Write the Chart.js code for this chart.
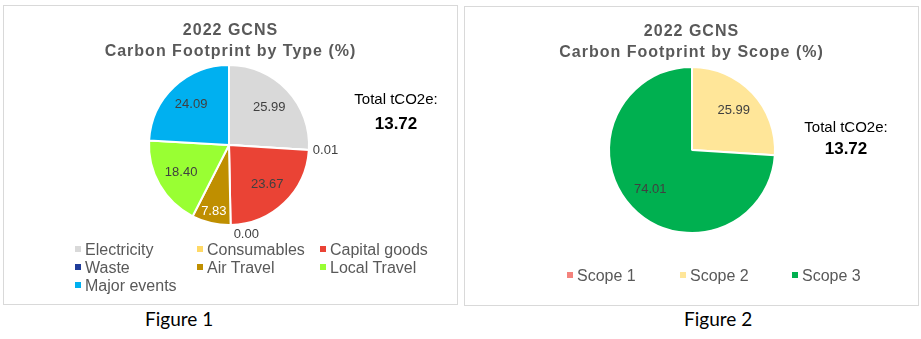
<!DOCTYPE html>
<html>
<head>
<meta charset="utf-8">
<script src="https://cdn.jsdelivr.net/npm/chart.js@4/dist/chart.umd.min.js"></script>
<style>
  body { margin: 0; background: #fff; width: 921px; height: 339px; position: relative; overflow: hidden; }
  .box { position: absolute; border: 1px solid #d9d9d9; background: #fff; }
  .box canvas { position: absolute; left: 0; top: 0; }
  .ttl { position: absolute; left: 0; right: 0; text-align: center; font: bold 16px "Liberation Sans", Arial, sans-serif;
         letter-spacing: 1px; color: #595959; line-height: 21px; }
  .total { position: absolute; text-align: center; font: 15px "Liberation Sans", Arial, sans-serif; color: #000; line-height: 22px; }
  .total b { font-size: 17px; display: block; }
  .legend { position: absolute; font: 16px "Liberation Sans", Arial, sans-serif; color: #595959; }
  .legend .item { position: absolute; white-space: nowrap; line-height: 18px; }
  .legend .mark { display: inline-block; width: 6px; height: 6px; margin-right: 4px; vertical-align: 3px; }
  .cap { position: absolute; font: 19px Lato, "Open Sans", sans-serif; color: #000; }
</style>
</head>
<body>

<div class="box" id="box1" style="left:3px; top:5px; width:453px; height:298px;">
  <canvas id="chartType" width="453" height="298"></canvas>
  <div class="ttl" style="top:13px;">2022 GCNS<br>Carbon Footprint by Type (%)</div>
  <div class="total" style="left:340px; top:82px; width:104px;">Total tCO2e:<b style="margin-top:3px;">13.72</b></div>
  <div class="legend" id="legendType"></div>
</div>

<div class="box" id="box2" style="left:464px; top:6px; width:453px; height:298px;">
  <canvas id="chartScope" width="453" height="298"></canvas>
  <div class="ttl" style="top:13px;">2022 GCNS<br>Carbon Footprint by Scope (%)</div>
  <div class="total" style="left:329px; top:109px; width:104px;">Total tCO2e:<b>13.72</b></div>
  <div class="legend" id="legendScope"></div>
</div>

<div class="cap" style="left:145px; top:307px;">Figure 1</div>
<div class="cap" style="left:684px; top:307px;">Figure 2</div>

<script>
// footprint by type (%)
const typeLabels = ["Electricity", "Consumables", "Capital goods", "Waste", "Air Travel", "Local Travel", "Major events"];
const typeValues = [25.99, 0.01, 23.67, 0.00, 7.83, 18.40, 24.09];
const typeColors = ["#d9d9d9", "#ffd966", "#ea4335", "#1f3c99", "#bf8f00", "#99ff33", "#00b0f0"];
const typeTextColors = ["#404040", "#404040", "#404040", "#404040", "#ffffff", "#404040", "#404040"];

// footprint by scope (%)
const scopeLabels = ["Scope 1", "Scope 2", "Scope 3"];
const scopeValues = [0.00, 25.99, 74.01];
const scopeColors = ["#f4837d", "#ffe699", "#00b050"];
const scopeTextColors = ["#404040", "#404040", "#404040"];

// values drawn on / next to the slices, excel style
const sliceLabels = {
  id: "sliceLabels",
  afterDatasetsDraw(chart, args, opts) {
    const ctx = chart.ctx;
    const ds = chart.data.datasets[0];
    const meta = chart.getDatasetMeta(0);
    const total = ds.data.reduce((a, b) => a + b, 0);
    ctx.save();
    ctx.font = "13px 'Liberation Sans', Arial, sans-serif";
    meta.data.forEach((arc, i) => {
      const v = ds.data[i];
      if (v === 0 && opts.hideZero) return;
      const p = arc.getProps(["x", "y", "startAngle", "endAngle", "outerRadius"], true);
      const mid = (p.startAngle + p.endAngle) / 2;
      const cos = Math.cos(mid), sin = Math.sin(mid);
      const txt = v.toFixed(2);
      if (v / total < 0.01) {
        // tiny slice: label outside the pie
        ctx.fillStyle = "#404040";
        const ox = p.x + cos * p.outerRadius;
        const oy = p.y + sin * p.outerRadius;
        if (Math.abs(cos) >= Math.abs(sin)) {
          ctx.textAlign = cos > 0 ? "left" : "right";
          ctx.textBaseline = "middle";
          ctx.fillText(txt, ox + (cos > 0 ? 4 : -4), oy);
        } else {
          ctx.textAlign = "left";
          ctx.textBaseline = sin > 0 ? "top" : "bottom";
          ctx.fillText(txt, ox + 3, oy + (sin > 0 ? 3 : -3));
        }
      } else {
        const d = p.outerRadius * (v / total < 0.1 ? 0.85 : 0.69);
        ctx.fillStyle = opts.colors[i];
        ctx.textAlign = "center";
        ctx.textBaseline = "middle";
        ctx.fillText(txt, p.x + cos * d, p.y + sin * d);
      }
    });
    ctx.restore();
  }
};

function makePie(id, labels, values, colors, textColors, pad, hideZero) {
  return new Chart(document.getElementById(id), {
    type: "pie",
    data: {
      labels: labels,
      datasets: [{ data: values, backgroundColor: colors, borderColor: "#ffffff", borderWidth: 2 }]
    },
    options: {
      responsive: false,
      animation: false,
      layout: { padding: pad },
      plugins: {
        legend: { display: false },
        tooltip: { enabled: false },
        sliceLabels: { colors: textColors, hideZero: hideZero }
      }
    },
    plugins: [sliceLabels]
  });
}

function makeLegend(id, labels, colors, cols, colX, top) {
  const el = document.getElementById(id);
  labels.forEach((lab, i) => {
    const item = document.createElement("div");
    item.className = "item";
    item.style.left = colX[i % cols] + "px";
    item.style.top = (top + Math.floor(i / cols) * 18) + "px";
    item.innerHTML = `<span class="mark" style="background:${colors[i]}"></span>${lab}`;
    el.appendChild(item);
  });
}

makePie("chartType", typeLabels, typeValues, typeColors, typeTextColors,
  { left: 144, top: 58, right: 147, bottom: 78 }, false);
makePie("chartScope", scopeLabels, scopeValues, scopeColors, scopeTextColors,
  { left: 143, top: 59, right: 142, bottom: 71 }, true);

makeLegend("legendType", typeLabels, typeColors, 3, [71, 193, 316], 235);
makeLegend("legendScope", scopeLabels, scopeColors, 3, [102, 215, 327], 260);
</script>
</body>
</html>
